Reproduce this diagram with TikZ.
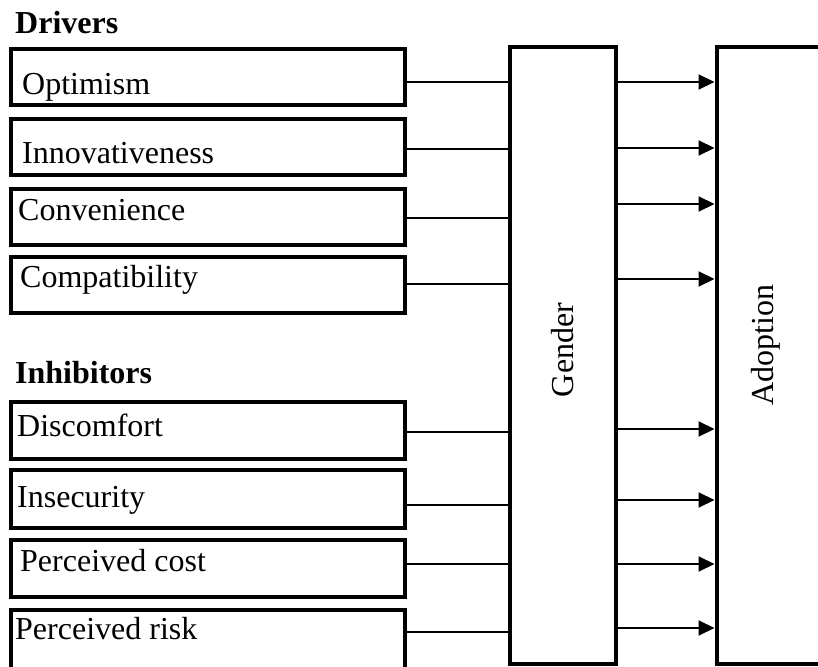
\documentclass[tikz,border=0pt]{standalone}
\usepackage{fontspec}
\setmainfont{Liberation Serif}
\usetikzlibrary{arrows.meta}
\begin{document}
\begin{tikzpicture}[x=1pt,y=-1pt,
  box/.style={draw, line width=4pt, rectangle, inner sep=0pt, anchor=north west},
  lbl/.style={anchor=base west, inner sep=0pt, font=\fontsize{32}{38}\selectfont},
  head/.style={anchor=base west, inner sep=0pt, font=\fontsize{32}{38}\selectfont\bfseries},
  vlbl/.style={rotate=90, inner sep=0pt, font=\fontsize{32}{38}\selectfont},
  conn/.style={line width=2pt},
  arr/.style={line width=2pt, -{Triangle[length=16pt,width=15pt]}}]
\useasboundingbox (0,0) rectangle (818,666);
\clip (0,0) rectangle (818,666);
% left boxes (outer edges)
\node[box, minimum width=394, minimum height=56] (b1) at (8.5,47) {};
\node[box, minimum width=394, minimum height=56] (b2) at (8.5,117) {};
\node[box, minimum width=394, minimum height=56] (b3) at (8.5,187) {};
\node[box, minimum width=394, minimum height=56] (b4) at (8.5,255) {};
\node[box, minimum width=394, minimum height=57] (b5) at (8.5,400) {};
\node[box, minimum width=394, minimum height=58] (b6) at (8.5,468) {};
\node[box, minimum width=394, minimum height=57] (b7) at (8.5,538) {};
\node[box, minimum width=394, minimum height=80] (b8) at (8.5,608) {};
% headings
\node[head] (hd) at (15,34) {Drivers};
\node[head] (hi) at (15,383) {Inhibitors};
% texts
\node[lbl] (t1) at (22,95) {Optimism};
\node[lbl] (t2) at (22,163) {Innovativeness};
\node[lbl] (t3) at (18,220) {Convenience};
\node[lbl] (t4) at (20,287) {Compatibility};
\node[lbl] (t5) at (17,436) {Discomfort};
\node[lbl] (t6) at (17,507) {Insecurity};
\node[lbl] (t7) at (20,571) {Perceived cost};
\node[lbl] (t8) at (15,639) {Perceived risk};
% gender and adoption
\node[box, minimum width=106, minimum height=616] (g) at (507.5,45.5) {};
\node[box, minimum width=140, minimum height=616] (a) at (714.5,45.5) {};
\node[vlbl] (gt) at (563,350) {Gender};
\node[vlbl] (at) at (766,345) {Adoption};
% helper levels
\foreach \n/\y in {l1/82,l2/149,l3/218,l4/284,l5/432,l6/505,l7/564,l8/632,
                   r1/82,r2/148,r3/204,r4/279,r5/429,r6/500,r7/564,r8/628}
  \coordinate (\n) at (0,\y);
% connectors
\draw[conn] (b1.east |- l1) -- (g.west |- l1);
\draw[conn] (b2.east |- l2) -- (g.west |- l2);
\draw[conn] (b3.east |- l3) -- (g.west |- l3);
\draw[conn] (b4.east |- l4) -- (g.west |- l4);
\draw[conn] (b5.east |- l5) -- (g.west |- l5);
\draw[conn] (b6.east |- l6) -- (g.west |- l6);
\draw[conn] (b7.east |- l7) -- (g.west |- l7);
\draw[conn] (b8.east |- l8) -- (g.west |- l8);
\foreach \i in {1,...,8}
  \draw[arr] (g.east |- r\i) -- (a.west |- r\i);
\end{tikzpicture}
\end{document}
